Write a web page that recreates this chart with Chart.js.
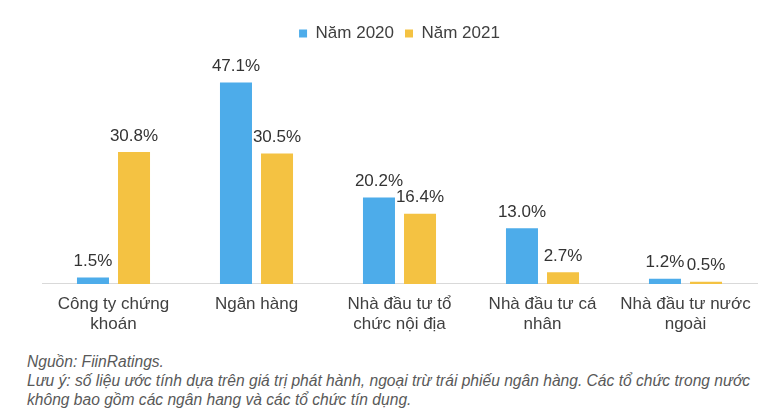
<!DOCTYPE html>
<html>
<head>
<meta charset="utf-8">
<script src="https://cdn.jsdelivr.net/npm/chart.js@4"></script>
<style>
  html, body { margin: 0; padding: 0; background: #fff; }
  #wrap { position: relative; width: 765px; height: 414px; overflow: hidden; }
  #chart-box { position: absolute; left: 0; top: 0; width: 765px; height: 345px; }
  #note {
    position: absolute; left: 27px; top: 352px;
    font-family: 'Liberation Sans', Arial, sans-serif;
    font-style: italic; font-size: 15.6px; line-height: 19px; color: #595959;
    white-space: nowrap;
  }
</style>
</head>
<body>
<div id="wrap">
  <div id="chart-box"><canvas id="bondChart"></canvas></div>
  <div id="note">
    Nguồn: FiinRatings.<br>
    Lưu ý: số liệu ước tính dựa trên giá trị phát hành, ngoại trừ trái phiếu ngân hàng. Các tổ chức trong nước<br>
    không bao gồm các ngân hang và các tổ chức tín dụng.
  </div>
</div>
<script>
const categories = [
    ['Công ty chứng', 'khoán'],
    ['Ngân hàng'],
    ['Nhà đầu tư tổ', 'chức nội địa'],
    ['Nhà đầu tư cá', 'nhân'],
    ['Nhà đầu tư nước', 'ngoài']
];
const seriesNames = ['Năm 2020', 'Năm 2021'];
const values2020 = [1.5, 47.1, 20.2, 13.0, 1.2]; // %
const values2021 = [30.8, 30.5, 16.4, 2.7, 0.5]; // %

const FONT = "'Liberation Sans', Arial, sans-serif";

// Draw the percentage labels above each bar
const barLabels = {
    id: 'barLabels',
    afterDatasetsDraw(chart) {
        const ctx = chart.ctx;
        ctx.save();
        ctx.font = '17px ' + FONT;
        ctx.fillStyle = '#333333';
        ctx.textAlign = 'center';
        ctx.textBaseline = 'middle';
        chart.data.datasets.forEach((ds, i) => {
            chart.getDatasetMeta(i).data.forEach((bar, j) => {
                ctx.fillText(ds.data[j].toFixed(1) + '%', bar.x, bar.y - 16);
            });
        });
        ctx.restore();
    }
};

const ctx = document.getElementById('bondChart').getContext('2d');
new Chart(ctx, {
    type: 'bar',
    data: {
        labels: categories,
        datasets: [{
            label: seriesNames[0],
            data: values2020,
            backgroundColor: '#4DACEA',
            categoryPercentage: 0.574,
            barPercentage: 0.78
        }, {
            label: seriesNames[1],
            data: values2021,
            backgroundColor: '#F4C242',
            categoryPercentage: 0.574,
            barPercentage: 0.78
        }]
    },
    options: {
        responsive: true,
        maintainAspectRatio: false,
        animation: false,
        layout: { padding: { left: 42, right: 8, top: 14, bottom: 0 } },
        plugins: {
            legend: {
                position: 'top',
                labels: {
                    boxWidth: 8,
                    boxHeight: 8,
                    padding: 11,
                    color: '#404040',
                    font: { family: FONT, size: 17 }
                }
            },
            tooltip: { enabled: false }
        },
        scales: {
            x: {
                grid: { display: false, drawTicks: false },
                border: { display: true, color: '#d9d9d9', width: 1 },
                ticks: {
                    padding: 11,
                    color: '#404040',
                    maxRotation: 0,
                    font: { family: FONT, size: 17, lineHeight: 1.15 }
                }
            },
            y: {
                display: false,
                min: 0,
                max: 54.2
            }
        }
    },
    plugins: [barLabels]
});
</script>
</body>
</html>
